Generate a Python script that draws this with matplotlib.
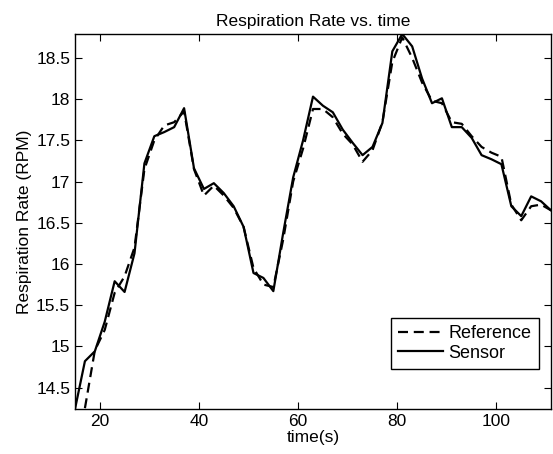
import numpy as np
import matplotlib
matplotlib.use('Agg')
import matplotlib.pyplot as plt

# time axis (s), sampled every 2 s
time_sensor = np.arange(15, 112, 2)
time_reference = np.arange(17, 112, 2)

sensor_rpm = [14.24, 14.82, 14.94, 15.30, 15.79, 15.66, 16.13, 17.22, 17.55, 17.60,
              17.66, 17.89, 17.16, 16.91, 16.98, 16.86, 16.70, 16.45, 15.89, 15.83,
              15.67, 16.38, 17.05, 17.50, 18.03, 17.92, 17.84, 17.63, 17.47, 17.32,
              17.42, 17.71, 18.58, 18.79, 18.64, 18.25, 17.95, 18.01, 17.66, 17.66,
              17.53, 17.32, 17.27, 17.21, 16.70, 16.58, 16.82, 16.76, 16.65]

reference_rpm = [14.25, 14.95, 15.20, 15.65, 15.85, 16.20, 17.15, 17.50, 17.68,
                 17.72, 17.85, 17.15, 16.83, 16.95, 16.83, 16.68, 16.45, 15.95,
                 15.75, 15.72, 16.30, 17.00, 17.40, 17.88, 17.88, 17.78, 17.58,
                 17.45, 17.24, 17.38, 17.72, 18.45, 18.75, 18.50, 18.20, 17.98,
                 17.95, 17.72, 17.70, 17.55, 17.42, 17.35, 17.30, 16.72, 16.53,
                 16.70, 16.72, 16.65]

plt.rcParams['font.family'] = ['Liberation Sans', 'DejaVu Sans']
plt.rcParams['font.size'] = 12.5

fig = plt.figure(figsize=(5.53, 4.54), dpi=100)
ax = fig.add_axes([75 / 553, 45 / 454, 476 / 553, 375 / 454])

ax.plot(time_reference, reference_rpm, color='black', linestyle=(0, (4.5, 2.6)),
        linewidth=1.6, label='Reference')
ax.plot(time_sensor, sensor_rpm, color='black', linestyle='-',
        linewidth=1.6, label='Sensor')

# tight axes like MATLAB "axis tight"
all_y = sensor_rpm + reference_rpm
ax.set_xlim(time_sensor[0], time_sensor[-1])
ax.set_ylim(min(all_y), max(all_y))

ax.set_xticks([20, 40, 60, 80, 100])
ax.set_yticks([14.5, 15, 15.5, 16, 16.5, 17, 17.5, 18, 18.5])
ax.set_yticklabels(['14.5', '15', '15.5', '16', '16.5', '17', '17.5', '18', '18.5'])
ax.tick_params(direction='in', top=True, right=True, length=5, width=0.8, labelsize=12.5)
for spine in ax.spines.values():
    spine.set_linewidth(1.0)

ax.set_xlabel('time(s)', labelpad=1)
ax.set_ylabel('Respiration Rate (RPM)', labelpad=3)
ax.set_title('Respiration Rate vs. time', fontsize=12.5, pad=6)

leg = ax.legend(loc='lower right', bbox_to_anchor=(0.974, 0.107), fancybox=False,
                framealpha=1, edgecolor='black', handlelength=2.5, handletextpad=0.3,
                borderpad=0.4, labelspacing=0.15, borderaxespad=0, fontsize=13)
leg.get_frame().set_linewidth(1.0)

fig.savefig('out.png', dpi=100)
